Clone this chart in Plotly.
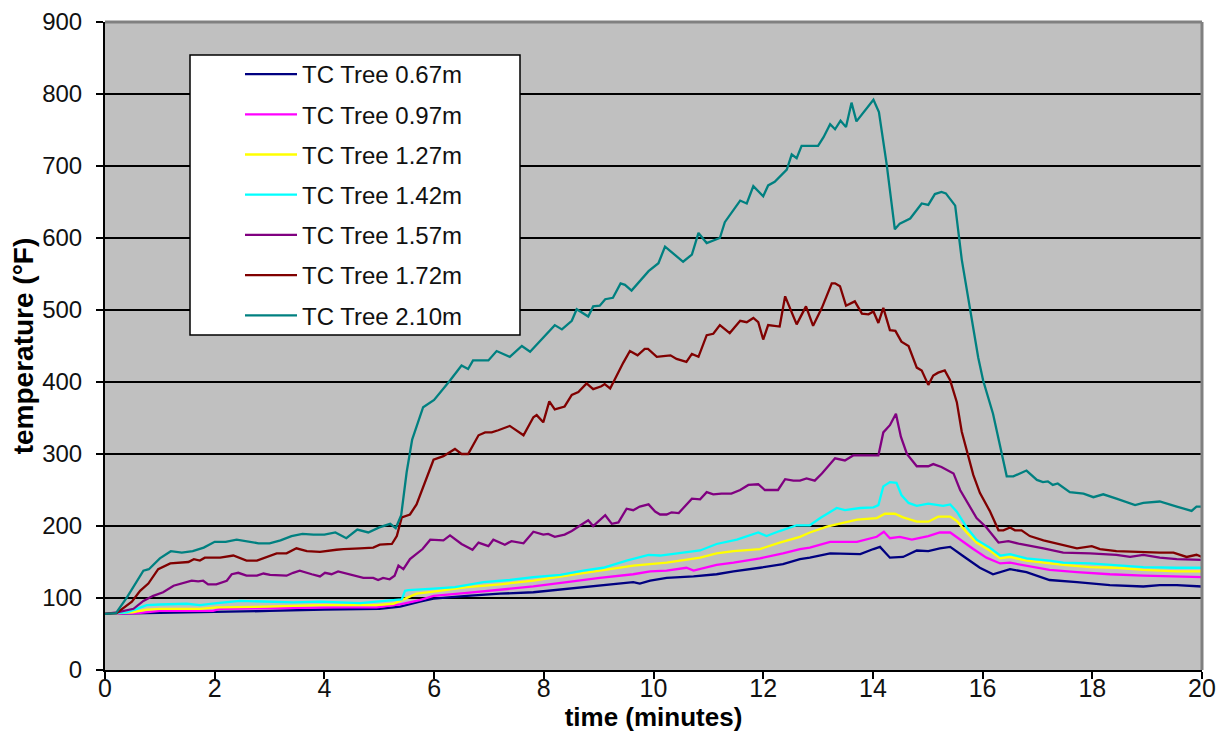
import plotly.graph_objects as go

# ---- data (time in minutes, temperature in °F) ----
names = ["TC Tree 0.67m", "TC Tree 0.97m", "TC Tree 1.27m", "TC Tree 1.42m",
         "TC Tree 1.57m", "TC Tree 1.72m", "TC Tree 2.10m"]
colors = ["#000080", "#FF00FF", "#FFFF00", "#00FFFF", "#800080", "#800000", "#008080"]

t_067 = [0, 1.0, 2.0, 3.0, 4.0, 5.0, 5.26, 5.38, 5.74, 5.99, 6.60, 7.20, 7.81, 8.42, 9.02, 9.63, 9.75, 9.94,
         10.24, 10.73, 11.15, 11.46, 11.94, 12.36, 12.67, 12.85, 13.22, 13.77, 14.01, 14.13, 14.31, 14.55,
         14.80, 15.01, 15.22, 15.41, 15.65, 15.95, 16.19, 16.32, 16.50, 16.80, 17.22, 17.72, 18.32, 18.93,
         19.23, 19.54, 20.0]
v_067 = [78, 79, 81, 82, 84, 85, 87, 88, 95, 99, 103, 106, 108, 113, 117, 122, 120, 124,
         128, 130, 133, 137, 142, 147, 154, 156, 162, 161, 168, 171, 156, 157,
         166, 165, 169, 171, 158, 142, 133, 136, 140, 136, 125, 122, 118, 116,
         118, 118, 116]

t_097 = [0, 0.6, 1.0, 1.97, 2.10, 2.95, 3.25, 4.16, 4.95, 5.26, 5.38, 5.74, 5.99, 6.60, 7.20, 7.81, 8.42,
         9.02, 9.63, 9.94, 10.24, 10.60, 10.73, 11.15, 11.46, 11.94, 12.36, 12.67, 12.85, 13.22, 13.71,
         14.07, 14.20, 14.31, 14.49, 14.71, 15.01, 15.22, 15.41, 15.59, 15.83, 16.07, 16.32, 16.50, 16.80,
         17.22, 17.72, 18.32, 18.93, 19.54, 20.0]
v_097 = [78, 79, 82, 82, 85, 85, 86, 87, 87, 90, 91, 97, 103, 107, 111, 116, 122,
         128, 133, 137, 138, 142, 138, 146, 149, 155, 162, 168, 170, 178, 178,
         185, 192, 183, 185, 181, 186, 191, 191, 181, 168, 156, 148, 149, 145,
         139, 136, 133, 131, 130, 129]

t_127 = [0, 0.5, 0.76, 1.0, 1.73, 2.04, 2.95, 3.92, 4.95, 5.26, 5.38, 5.68, 5.99, 6.60, 7.20, 7.81, 8.42,
         9.02, 9.63, 10.24, 10.85, 11.15, 11.46, 11.94, 12.30, 12.67, 12.85, 13.16, 13.46, 13.71, 14.07,
         14.22, 14.40, 14.55, 14.80, 15.01, 15.19, 15.41, 15.53, 15.71, 15.89, 16.13, 16.32, 16.50, 16.80,
         17.47, 17.96, 18.44, 18.93, 19.54, 20.0]
v_127 = [78, 80, 84, 85, 85, 87, 88, 90, 90, 92, 96, 106, 109, 115, 119, 124, 131,
         138, 145, 149, 156, 162, 165, 168, 177, 185, 191, 199, 204, 209, 211,
         217, 217, 212, 206, 206, 213, 213, 207, 191, 177, 166, 155, 157, 152,
         146, 143, 142, 139, 137, 137]

t_142 = [0, 0.4, 0.58, 0.76, 1.0, 1.49, 1.73, 2.04, 2.46, 2.95, 3.43, 3.92, 4.41, 4.65, 4.95, 5.26, 5.41,
         5.47, 5.53, 5.99, 6.38, 6.90, 7.38, 7.81, 8.30, 8.72, 9.08, 9.51, 9.91, 10.12, 10.42, 10.85,
         11.15, 11.52, 11.91, 12.06, 12.30, 12.61, 12.85, 13.04, 13.34, 13.49, 13.77, 14.01, 14.10, 14.19,
         14.31, 14.43, 14.52, 14.65, 14.80, 15.01, 15.10, 15.28, 15.41, 15.53, 15.71, 15.89, 16.13, 16.32,
         16.50, 16.80, 17.22, 17.47, 17.96, 18.44, 18.93, 19.54, 20.0]
v_142 = [78, 80, 85, 90, 91, 92, 90, 93, 96, 95, 94, 95, 93, 93, 95, 97, 98,
         110, 111, 113, 115, 122, 125, 129, 132, 138, 142, 152, 160, 159, 162, 166,
         175, 181, 191, 186, 193, 201, 201, 211, 225, 222, 225, 226, 229, 255,
         261, 260, 243, 232, 228, 231, 230, 228, 230, 220, 198, 181, 170, 159,
         161, 155, 152, 149, 148, 146, 143, 142, 142]

t_157 = [0, 0.22, 0.52, 0.70, 0.88, 1.06, 1.25, 1.40, 1.58, 1.70, 1.79, 1.88, 2.03, 2.22, 2.31, 2.43,
         2.58, 2.77, 2.89, 3.01, 3.19, 3.31, 3.43, 3.55, 3.77, 3.92, 4.01, 4.13, 4.25, 4.41, 4.53, 4.71,
         4.89, 4.98, 5.07, 5.19, 5.28, 5.35, 5.44, 5.56, 5.79, 5.93, 6.17, 6.29, 6.50, 6.70, 6.81, 6.99,
         7.08, 7.29, 7.41, 7.63, 7.81, 7.99, 8.08, 8.20, 8.38, 8.51, 8.69, 8.81, 8.90, 9.12, 9.24, 9.36,
         9.51, 9.63, 9.75, 9.91, 10.03, 10.12, 10.24, 10.33, 10.46, 10.57, 10.70, 10.85, 10.97, 11.09,
         11.24, 11.42, 11.58, 11.73, 11.91, 12.03, 12.27, 12.40, 12.55, 12.67, 12.79, 12.94, 13.07, 13.31,
         13.49, 13.64, 14.10, 14.19, 14.31, 14.42, 14.51, 14.62, 14.80, 15.01, 15.10, 15.25, 15.47, 15.59,
         15.71, 15.89, 16.07, 16.29, 16.47, 16.68, 17.11, 17.47, 17.96, 18.44, 18.69, 18.93, 19.23, 19.54,
         20.0]
v_157 = [78, 80, 85, 96, 103, 108, 117, 120, 124, 123, 124, 119, 119, 124, 133, 135,
         131, 131, 134, 132, 132, 131, 135, 138, 133, 130, 135, 133, 137, 134, 131, 128,
         128, 125, 128, 126, 131, 145, 140, 154, 168, 181, 180, 187, 175, 167, 177, 172,
         181, 174, 179, 176, 192, 188, 189, 185, 188, 193, 202, 208, 200, 215, 203, 205,
         224, 222, 227, 230, 220, 216, 216, 219, 218, 227, 238, 237, 247, 244,
         245, 245, 250, 257, 258, 250, 250, 265, 263, 263, 266, 263, 273, 294,
         291, 298, 298, 330, 340, 356, 324, 300, 283, 283, 286, 282, 273, 250,
         234, 211, 198, 177, 179, 175, 169, 163, 162, 160, 157, 160, 156, 154,
         153]

t_172 = [0, 0.21, 0.49, 0.64, 0.79, 0.97, 1.19, 1.52, 1.62, 1.73, 1.82, 2.10, 2.34, 2.58, 2.77, 2.92,
         3.13, 3.31, 3.49, 3.68, 3.92, 4.22, 4.35, 4.65, 4.89, 5.01, 5.23, 5.32, 5.41, 5.56, 5.68, 5.99,
         6.17, 6.38, 6.50, 6.62, 6.81, 6.93, 7.05, 7.17, 7.38, 7.63, 7.81, 7.87, 7.99, 8.10, 8.20, 8.38,
         8.51, 8.63, 8.78, 8.90, 9.05, 9.11, 9.21, 9.45, 9.57, 9.71, 9.84, 9.90, 10.06, 10.18, 10.31,
         10.42, 10.60, 10.70, 10.82, 10.97, 11.09, 11.21, 11.39, 11.58, 11.70, 11.82, 11.91, 12.00, 12.09,
         12.30, 12.40, 12.61, 12.78, 12.91, 13.07, 13.25, 13.31, 13.40, 13.51, 13.67, 13.80, 13.92, 14.01,
         14.10, 14.19, 14.31, 14.41, 14.52, 14.65, 14.80, 14.89, 15.01, 15.10, 15.19, 15.31, 15.41, 15.53,
         15.62, 15.83, 15.95, 16.13, 16.29, 16.38, 16.50, 16.59, 16.71, 16.86, 17.11, 17.41, 17.72, 17.99,
         18.14, 18.44, 18.75, 18.99, 19.23, 19.48, 19.72, 19.90, 20.0]
v_172 = [78, 79, 95, 110, 120, 140, 148, 150, 154, 152, 156, 156, 159, 152, 152, 156,
         162, 162, 169, 165, 164, 167, 168, 169, 170, 174, 175, 186, 212, 216, 230, 292,
         297, 307, 300, 300, 326, 330, 330, 333, 339, 326, 351, 354, 344, 373, 362, 366,
         382, 386, 398, 390, 394, 397, 391, 427, 443, 437, 446, 446, 435, 436, 437,
         432, 428, 439, 435, 465, 467, 479, 468, 485, 483, 489, 483, 459, 479,
         477, 519, 480, 505, 478, 503, 537, 537, 533, 506, 512, 495, 494, 498,
         482, 503, 472, 471, 456, 450, 420, 416, 396, 409, 413, 416, 402, 372,
         331, 271, 246, 221, 194, 194, 198, 194, 194, 186, 180, 175, 169, 172,
         168, 165, 164, 164, 163, 163, 157, 160, 157]

t_210 = [0, 0.2, 0.4, 0.6, 0.7, 0.8, 1.0, 1.2, 1.4, 1.6, 1.8, 2.0, 2.2, 2.4, 2.6, 2.8, 3.0, 3.2, 3.4,
         3.6, 3.8, 4.0, 4.2, 4.4, 4.6, 4.8, 5.0, 5.2, 5.3, 5.4, 5.5, 5.6, 5.8, 6.0, 6.29, 6.5, 6.62,
         6.71, 6.99, 7.14, 7.38, 7.6, 7.75, 8.05, 8.2, 8.33, 8.51, 8.6, 8.81, 8.9, 9.02, 9.12, 9.26,
         9.4, 9.48, 9.6, 9.91, 10.09, 10.21, 10.54, 10.7, 10.82, 10.97, 11.21, 11.3, 11.58, 11.7,
         11.82, 12.0, 12.09, 12.21, 12.43, 12.52, 12.61, 12.7, 13.0, 13.1, 13.22, 13.31, 13.41, 13.51,
         13.61, 13.7, 14.01, 14.11, 14.25, 14.4, 14.49, 14.68, 14.89, 15.01, 15.13, 15.25, 15.33,
         15.5, 15.62, 15.77, 15.92, 16.01, 16.19, 16.44, 16.56, 16.8, 16.99, 17.1, 17.19, 17.28,
         17.37, 17.59, 17.84, 18.02, 18.2, 18.44, 18.78, 18.93, 19.23, 19.54, 19.81, 19.9, 20.0]
v_210 = [78, 79, 101, 126, 138, 140, 155, 165, 163, 165, 170, 178, 178, 181, 178, 176, 176, 180, 186,
         189, 188, 188, 191, 183, 195, 191, 198, 203, 197, 215, 275, 320, 365, 375, 402, 423, 418,
         430, 430, 443, 435, 450, 442, 466, 479, 473, 485, 501, 491, 505, 506, 515, 517,
         537, 535, 527, 554, 565, 588, 567, 577, 607, 593, 600, 622, 652, 648,
         672, 658, 673, 678, 695, 716, 711, 728, 728, 740, 758, 751, 763, 754,
         788, 762, 792, 775, 703, 612, 620, 627, 648, 646, 661, 664, 662,
         645, 570, 501, 434, 402, 356, 269, 269, 277, 264, 261, 262, 257,
         259, 247, 245, 240, 244, 238, 229, 232, 234, 227, 221, 227, 227]

times = [t_067, t_097, t_127, t_142, t_157, t_172, t_210]
values = [v_067, v_097, v_127, v_142, v_157, v_172, v_210]

x_ticks = [0, 2, 4, 6, 8, 10, 12, 14, 16, 18, 20]
y_ticks = [0, 100, 200, 300, 400, 500, 600, 700, 800, 900]

FONT = "Liberation Sans, Arial, sans-serif"

# layout geometry (the page adds an 8px body margin around the figure)
W, H = 1214, 726
ML, MR, MT, MB = 97, 20, 14, 64
PW, PH = W - ML - MR, H - MT - MB
OFF = 8
PL, PT = ML + OFF, MT + OFF          # plot-area left / top on the screen
PB = PT + PH                          # plot-area bottom on the screen


def px_x(p):
    return (p - PL) / PW


def px_y(p):
    return (PB - p) / PH


fig = go.Figure()
for i, (n, c, tx, vy) in enumerate(zip(names, colors, times, values)):
    fig.add_trace(go.Scatter(x=tx, y=vy, mode="lines", name=n,
                             line=dict(color=c, width=2.3),
                             legendgroup="g%d" % i))

fig.update_layout(
    width=W, height=H,
    margin=dict(l=ML, r=MR, t=MT, b=MB),
    paper_bgcolor="white",
    plot_bgcolor="#C0C0C0",
    font=dict(family=FONT, color="black"),
    showlegend=True,
    legend=dict(
        x=px_x(190), y=px_y(52), xanchor="left", yanchor="top",
        bgcolor="rgba(0,0,0,0)", borderwidth=0,
        font=dict(family=FONT, size=24, color="#111111"),
        tracegroupgap=6, itemwidth=52, indentation=50,
    ),
    xaxis=dict(
        range=[0, 20], tickvals=x_ticks, ticktext=[str(v) for v in x_ticks],
        showgrid=False, zeroline=False, automargin=False,
        showline=True, linecolor="black", linewidth=2,
        ticks="outside", ticklen=7, tickwidth=1.5, tickcolor="black",
        tickfont=dict(size=25, color="#111111"), ticklabelstandoff=-12,
        ticklabeloverflow="allow",
        title=dict(text="<b>time (minutes)</b>", font=dict(size=26), standoff=0),
    ),
    yaxis=dict(
        range=[0, 900], tickvals=y_ticks, ticktext=[str(v) for v in y_ticks],
        showgrid=True, gridcolor="black", gridwidth=1.5,
        zeroline=False, automargin=False,
        showline=True, linecolor="black", linewidth=2,
        ticks="outside", ticklen=7, tickwidth=1.5, tickcolor="black",
        tickfont=dict(size=24, color="#111111"), ticklabelstandoff=9,
        ticklabeloverflow="allow",
        title=dict(text="<b>temperature (°F)</b>", font=dict(size=28), standoff=7),
    ),
    shapes=[
        dict(type="line", xref="paper", yref="paper", x0=0, y0=1, x1=1, y1=1,
             line=dict(color="#808080", width=3), layer="above"),
        dict(type="line", xref="paper", yref="paper", x0=1, y0=0, x1=1, y1=1,
             line=dict(color="#808080", width=3), layer="above"),
        dict(type="rect", xref="paper", yref="paper",
             x0=px_x(190), x1=px_x(520), y0=px_y(335), y1=px_y(55),
             fillcolor="white", line=dict(color="black", width=1.5), layer="above"),
    ],
)

fig.write_html("out.html")
